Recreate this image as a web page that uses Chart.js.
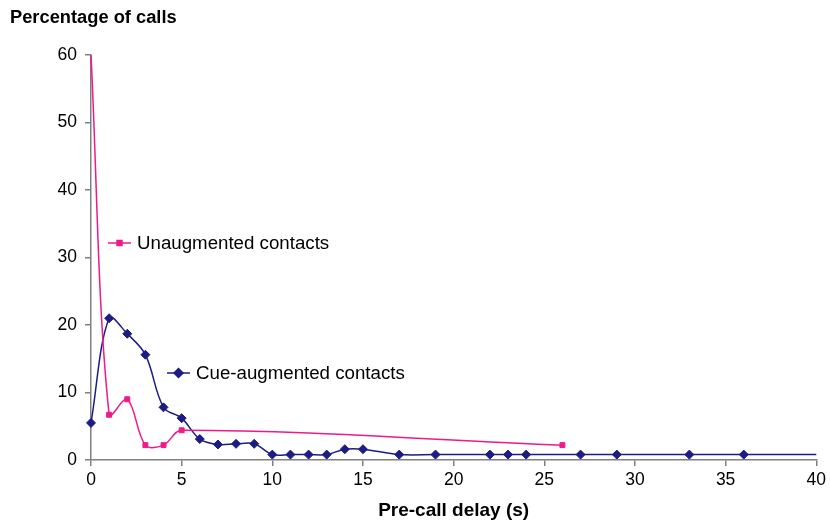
<!DOCTYPE html>
<html>
<head>
<meta charset="utf-8">
<script src="https://cdn.jsdelivr.net/npm/chart.js@4/dist/chart.umd.min.js"></script>
<style>
  html, body { margin: 0; padding: 0; background: #fff; }
  #wrap { width: 830px; height: 525px; }
</style>
</head>
<body>
<div id="wrap"><canvas id="chart" width="830" height="525"></canvas></div>
<script>
// Pre-call delay (s) values for each series
const cueDelays = [0, 1, 2, 3, 4, 5, 6, 7, 8, 9, 10, 11, 12, 13, 14, 15, 17, 19, 22, 23, 24, 27, 29, 33, 36, 40]
const cuePercent = [5.5, 21, 18.7, 15.6, 7.8, 6.2, 3.1, 2.3, 2.4, 2.4, 0.8, 0.8, 0.8, 0.8, 1.6, 1.6, 0.8, 0.8, 0.8, 0.8, 0.8, 0.8, 0.8, 0.8, 0.8, 0.8]

const unaugDelays = [0, 1, 2, 3, 4, 5, 26]
const unaugPercent = [60, 6.7, 9, 2.2, 2.2, 4.4, 2.2]

const seriesNames = ['Cue-augmented contacts', 'Unaugmented contacts']
const yTitle = 'Percentage of calls'
const xTitle = 'Pre-call delay (s)'

const navy = '#1c1c82'
const pink = '#ee1a8c'
const font = "'Liberation Sans', Arial, sans-serif"

const toPoints = (xs, ys) => xs.map((x, i) => ({ x: x, y: ys[i] }))

// draws the in-plot labels and the y title
const labelsPlugin = {
  id: 'labels',
  afterDraw(chart) {
    const ctx = chart.ctx
    const area = chart.chartArea
    ctx.save()
    ctx.font = 'bold 18.3px ' + font
    ctx.fillStyle = '#000'
    ctx.textBaseline = 'middle'
    ctx.textAlign = 'left'
    ctx.fillText(yTitle, 10, 18)

    const entries = [
      { name: seriesNames[1], color: pink, style: 'rect', r: 3.5, x: area.left + 17, y: area.top + 188 },
      { name: seriesNames[0], color: navy, style: 'rectRot', r: 4.5, x: area.left + 76, y: area.top + 318 }
    ]
    entries.forEach(e => {
      ctx.strokeStyle = e.color
      ctx.lineWidth = 1.5
      ctx.beginPath()
      ctx.moveTo(e.x, e.y)
      ctx.lineTo(e.x + 23, e.y)
      ctx.stroke()
      ctx.fillStyle = e.color
      Chart.helpers.drawPoint(ctx, { pointStyle: e.style, radius: e.r, borderWidth: 1 }, e.x + 11.5, e.y)
      ctx.fillStyle = '#000'
      ctx.font = '18.7px ' + font
      ctx.fillText(e.name, e.x + 29, e.y + 1)
    })
    ctx.restore()
  }
}

new Chart(document.getElementById('chart'), {
  type: 'line',
  data: {
    datasets: [
      {
        label: seriesNames[1],
        data: toPoints(unaugDelays, unaugPercent),
        borderColor: pink,
        backgroundColor: pink,
        borderWidth: 1.5,
        tension: 0.35,
        pointStyle: 'rect',
        pointRadius: unaugDelays.map((d, i) => i === 0 ? 0 : 3.5),
        pointBorderWidth: 1
      },
      {
        label: seriesNames[0],
        data: toPoints(cueDelays, cuePercent),
        borderColor: navy,
        backgroundColor: navy,
        borderWidth: 1.5,
        tension: 0.35,
        pointStyle: 'rectRot',
        pointRadius: cueDelays.map((d, i) => i === cueDelays.length - 1 ? 0 : 4.5),
        pointBorderWidth: 1
      }
    ]
  },
  options: {
    responsive: false,
    animation: false,
    clip: false,
    layout: { padding: { left: 0, right: 9, top: 55, bottom: 0 } },
    plugins: {
      legend: { display: false },
      tooltip: { enabled: false }
    },
    scales: {
      x: {
        type: 'linear',
        min: 0,
        max: 40,
        afterFit(scale) { scale.height = 65 },
        border: { color: '#808080', width: 1.5 },
        grid: { display: true, drawOnChartArea: false, drawTicks: true, tickLength: 6, color: '#808080', lineWidth: 1.5 },
        ticks: { stepSize: 5, color: '#000', font: { family: font, size: 17.5 }, padding: 4, maxRotation: 0 },
        title: { display: true, text: xTitle, color: '#000', font: { family: font, size: 19, weight: 'bold' }, padding: { top: 4, bottom: 3 } }
      },
      y: {
        min: 0,
        max: 60,
        afterFit(scale) { scale.width = 91 },
        border: { color: '#808080', width: 1.5 },
        grid: { display: true, drawOnChartArea: false, drawTicks: true, tickLength: 6, color: '#808080', lineWidth: 1.5 },
        ticks: { stepSize: 10, color: '#000', font: { family: font, size: 17.5 }, padding: 8 }
      }
    }
  },
  plugins: [labelsPlugin]
})
</script>
</body>
</html>
